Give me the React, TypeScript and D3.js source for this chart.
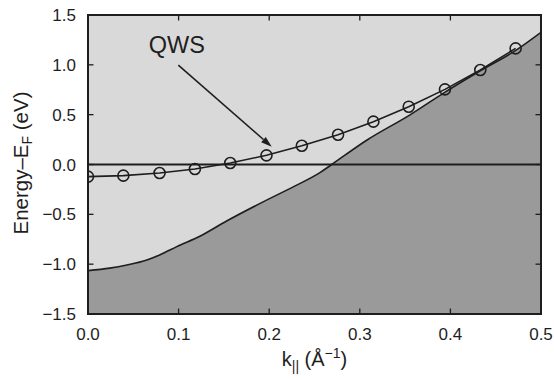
import React from "react";
import * as d3 from "d3";

const kQWS = [0, 0.039, 0.079, 0.118, 0.157, 0.197, 0.236, 0.276, 0.315, 0.354, 0.394, 0.433, 0.472];
const eQWS = [-0.122, -0.112, -0.085, -0.045, 0.015, 0.092, 0.188, 0.298, 0.43, 0.58, 0.754, 0.948, 1.165];

const kEdge = [0, 0.024, 0.043, 0.065, 0.079, 0.098, 0.124, 0.153, 0.19, 0.227, 0.256, 0.269, 0.308, 0.355, 0.392, 0.433, 0.473, 0.5];
const eEdge = [-1.065, -1.04, -1.008, -0.958, -0.908, -0.824, -0.717, -0.567, -0.39, -0.222, -0.082, 0.0, 0.246, 0.496, 0.714, 0.94, 1.15, 1.326];

const xTicks = [0, 0.1, 0.2, 0.3, 0.4, 0.5];
const yTicks = [-1.5, -1.0, -0.5, 0.0, 0.5, 1.0, 1.5];

const labelText = "QWS";
const labelPos = [0.067, 1.12];
const arrowFrom = [0.0997, 0.998];
const arrowTo = [0.2028, 0.178];

const W = 554;
const H = 380;
const FONT = "'Liberation Sans', Arial, Helvetica, sans-serif";
const INK = "#1e1e1e";

export default function App() {
  const x = d3.scaleLinear().domain([0, 0.5]).range([88, 541]);
  const y = d3.scaleLinear().domain([-1.5, 1.5]).range([314, 15]);
  const [x0, x1] = x.range();
  const [y0, y1] = y.range();

  const edgePts = kEdge.map((k, i) => [k, eEdge[i]] as [number, number]);
  const area = d3
    .area<[number, number]>()
    .x((d) => x(d[0]))
    .y0(y(-1.5))
    .y1((d) => y(d[1]))
    .curve(d3.curveMonotoneX)(edgePts) as string;
  const edgeLine = d3
    .line<[number, number]>()
    .x((d) => x(d[0]))
    .y((d) => y(d[1]))
    .curve(d3.curveMonotoneX)(edgePts) as string;

  const qPts = kQWS.map((k, i) => [k, eQWS[i]] as [number, number]);
  const qLine = d3
    .line<[number, number]>()
    .x((d) => x(d[0]))
    .y((d) => y(d[1]))(qPts) as string;

  const ax = x(arrowFrom[0]);
  const ay = y(arrowFrom[1]);
  const bx = x(arrowTo[0]);
  const by = y(arrowTo[1]);
  const ang = Math.atan2(by - ay, bx - ax);
  const hl = 11;
  const hw = 3.5;
  const baseX = bx - hl * Math.cos(ang);
  const baseY = by - hl * Math.sin(ang);
  const head = [
    [bx, by],
    [baseX + hw * Math.sin(ang), baseY - hw * Math.cos(ang)],
    [baseX - hw * Math.sin(ang), baseY + hw * Math.cos(ang)],
  ]
    .map((p) => p.join(","))
    .join(" ");

  const fmt = (v: number) => (v < 0 ? "\u2212" + Math.abs(v).toFixed(1) : v.toFixed(1));
  const tl = 5.5;

  return (
    <svg
      width={W}
      height={H}
      style={{ position: "absolute", left: 0, top: 0, background: "#fff" }}
      fontFamily={FONT}
    >
      <defs>
        <clipPath id="plot">
          <rect x={x0} y={y1} width={x1 - x0} height={y0 - y1} />
        </clipPath>
      </defs>
      <rect x={x0} y={y1} width={x1 - x0} height={y0 - y1} fill="#d9d9d9" />
      <g clipPath="url(#plot)">
        <path d={area} fill="#9a9a9a" />
        <path d={edgeLine} fill="none" stroke={INK} strokeWidth={1.6} />
        <line x1={x0} x2={x1} y1={y(0)} y2={y(0)} stroke={INK} strokeWidth={2} />
        <path d={qLine} fill="none" stroke={INK} strokeWidth={1.6} />
        {qPts.map((p, i) => (
          <circle key={i} cx={x(p[0])} cy={y(p[1])} r={5.5} fill="none" stroke={INK} strokeWidth={1.6} />
        ))}
      </g>
      <line x1={ax} y1={ay} x2={baseX} y2={baseY} stroke={INK} strokeWidth={1.6} />
      <polygon points={head} fill={INK} />

      {xTicks.map((t, i) => (
        <g key={"xt" + i}>
          <line x1={x(t)} x2={x(t)} y1={y0} y2={y0 - tl} stroke={INK} strokeWidth={1.3} />
          <line x1={x(t)} x2={x(t)} y1={y1} y2={y1 + tl} stroke={INK} strokeWidth={1.3} />
        </g>
      ))}
      {yTicks.map((t, i) => (
        <g key={"yt" + i}>
          <line x1={x0} x2={x0 + tl} y1={y(t)} y2={y(t)} stroke={INK} strokeWidth={1.3} />
          <line x1={x1} x2={x1 - tl} y1={y(t)} y2={y(t)} stroke={INK} strokeWidth={1.3} />
        </g>
      ))}
      <rect x={x0} y={y1} width={x1 - x0} height={y0 - y1} fill="none" stroke={INK} strokeWidth={2} />

      <g opacity={0.999} fill={INK}>
        <text x={x(labelPos[0])} y={y(labelPos[1])} fontSize={23.5}>
          {labelText}
        </text>
        {xTicks.map((t, i) => (
          <text key={"xl" + i} x={x(t)} y={340} fontSize={17} textAnchor="middle">
            {fmt(t)}
          </text>
        ))}
        {yTicks.map((t, i) => (
          <text key={"yl" + i} x={76} y={y(t) + 6} fontSize={17} textAnchor="end">
            {fmt(t)}
          </text>
        ))}
        <text x={(x0 + x1) / 2} y={366} fontSize={20} textAnchor="middle">
          k
          <tspan fontSize={14} dy={5}>||</tspan>
          <tspan dy={-5}> (Å</tspan>
          <tspan fontSize={14} dy={-8}>−1</tspan>
          <tspan dy={8}>)</tspan>
        </text>
        <text transform={`translate(28,${(88 + 238) / 2}) rotate(-90)`} fontSize={20.5} textAnchor="middle">
          Energy–E
          <tspan fontSize={14} dy={4}>F</tspan>
          <tspan dy={-4}> (eV)</tspan>
        </text>
      </g>
    </svg>
  );
}
